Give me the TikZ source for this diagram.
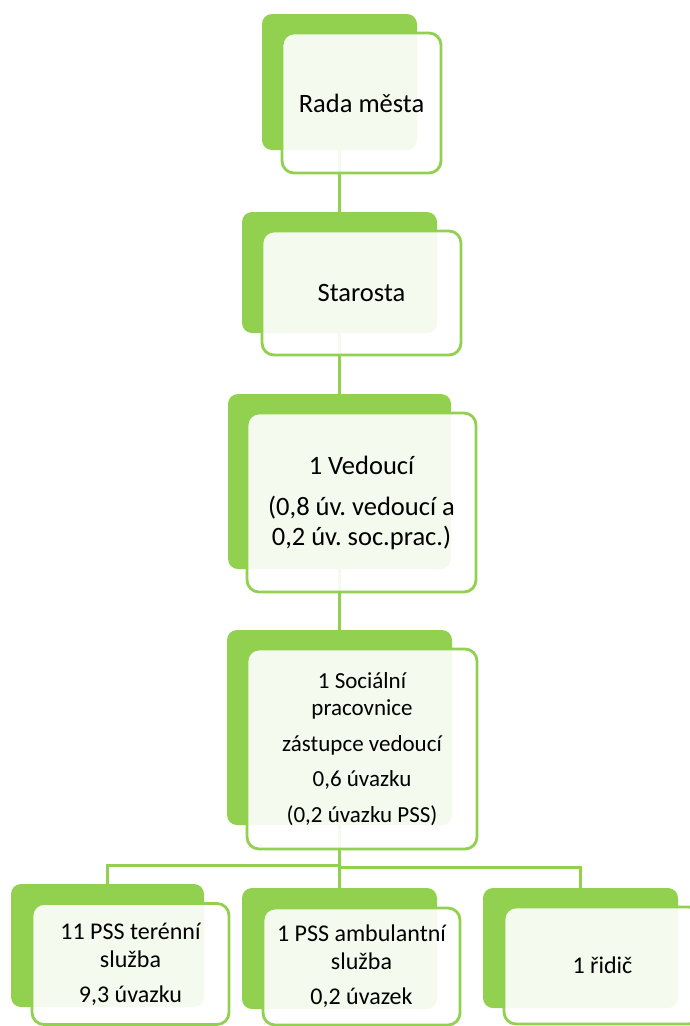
\documentclass[tikz,border=0pt]{standalone}
\usepackage{fontspec}
\setmainfont{Carlito}
\definecolor{grn}{HTML}{92D050}
\frenchspacing
\begin{document}
\begin{tikzpicture}[x=1pt,y=-1pt,
  back/.style={rectangle, rounded corners=10pt, fill=grn, inner sep=0pt, draw=none},
  front/.style={rectangle, rounded corners=12pt, draw=grn, line width=2.8pt, fill=white, fill opacity=0.9, text opacity=1, inner sep=0pt, align=center},
  conn/.style={draw=grn, line width=2.8pt},
  big/.style={font=\fontsize{26.5}{30}\selectfont},
  mid/.style={font=\fontsize{23}{27}\selectfont},
  sml/.style={font=\fontsize{24}{28}\selectfont}]
\useasboundingbox (0,0) rectangle (689,1026);
% back boxes
\node[back, minimum width=155pt, minimum height=136pt] (b1) at (339.5,82) {};
\node[back, minimum width=195pt, minimum height=121pt] (b2) at (339.5,272.5) {};
\node[back, minimum width=223pt, minimum height=175pt] (b3) at (339.5,481.5) {};
\node[back, minimum width=225pt, minimum height=195pt] (b4) at (339.5,727.5) {};
\node[back, minimum width=193pt, minimum height=123pt] (b5) at (107.5,945.5) {};
\node[back, minimum width=195pt, minimum height=121pt] (b6) at (339.5,948.5) {};
\node[back, minimum width=195pt, minimum height=120pt] (b7) at (580.5,948) {};
% connectors
\draw[conn] (b1.south) -- (b2.north);
\draw[conn] (b2.south) -- (b3.north);
\draw[conn] (b3.south) -- (b4.north);
\draw[conn] (b4.south) -- (b6.north);
\draw[conn] (b4.south) ++(0,40) -| (b5.north);
\draw[conn] (b4.south) ++(0,42) -| (b7.north);
% front boxes
\node[front, big, minimum width=159pt, minimum height=140pt] (f1) at (361.5,103) {Rada města};
\node[front, big, minimum width=199pt, minimum height=124pt] (f2) at (361.5,293) {Starosta};
\node[front, big, minimum width=229pt, minimum height=179pt] (f3) at (361.5,502.5) {1 Vedoucí\\[11pt](0,8 úv. vedoucí a\\0,2 úv. soc.prac.)};
\node[front, mid, minimum width=230pt, minimum height=200pt] (f4) at (362,749) {1 Sociální\\pracovnice\\[9pt]zástupce vedoucí\\[8pt]0,6 úvazku\\[9pt](0,2 úvazku PSS)};
\node[front, sml, minimum width=197pt, minimum height=121pt] (f5) at (130.5,964) {11 PSS terénní\\služba\\[7pt]9,3 úvazku};
\node[front, sml, minimum width=197pt, minimum height=117pt] (f6) at (361.5,966.5) {1 PSS ambulantní\\služba\\[7pt]0,2 úvazek};
\node[front, sml, minimum width=197pt, minimum height=117pt] (f7) at (602.5,965.5) {\raisebox{-4pt}{1 řidič}};
\end{tikzpicture}
\end{document}
